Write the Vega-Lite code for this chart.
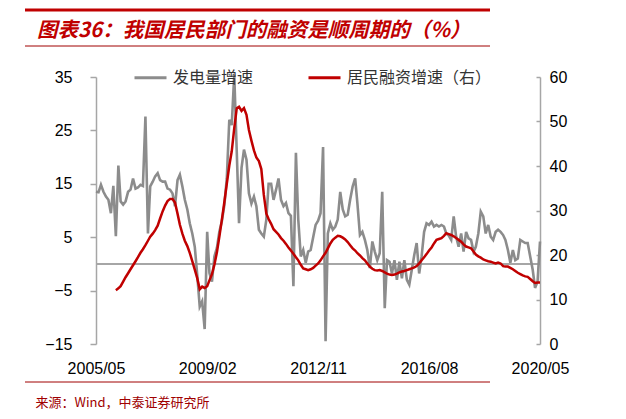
{
  "$schema": "https://vega.github.io/schema/vega-lite/v6.json",
  "width": 444,
  "height": 267,
  "autosize": {"type": "none"},
  "padding": {"left": 96, "top": 77, "right": 86, "bottom": 75},
  "background": "white",
  "title": {
    "text": "图表36：我国居民部门的融资是顺周期的（%）",
    "anchor": "start",
    "frame": "group",
    "orient": "top",
    "dx": -59,
    "offset": 0,
    "dy": 33,
    "font": "Noto Sans CJK SC",
    "fontSize": 20.5,
    "fontStyle": "italic",
    "fontWeight": "bold",
    "color": "#C00000"
  },
  "config": {
    "view": {"stroke": null},
    "font": "Liberation Sans",
    "legend": {
      "orient": "none",
      "legendX": 37,
      "legendY": -17,
      "direction": "horizontal",
      "padding": 0,
      "symbolType": "stroke",
      "symbolSize": 1024,
      "symbolStrokeWidth": 3,
      "labelFont": "Noto Sans CJK SC",
      "labelFontSize": 16,
      "labelColor": "#333333",
      "labelOffset": 5,
      "columnPadding": 48,
      "labelLimit": 300
    }
  },
  "data": {
    "values": [
      {"d": "2005-05", "g": 13.5}, {"d": "2005-06", "g": 13.4}, {"d": "2005-07", "g": 14.8}, {"d": "2005-08", "g": 13.5},
      {"d": "2005-09", "g": 12.6}, {"d": "2005-10", "g": 12.0}, {"d": "2005-11", "g": 9.5}, {"d": "2005-12", "g": 14.6},
      {"d": "2006-01", "g": 5.2, "r": 12.1}, {"d": "2006-02", "g": 18.4, "r": 12.5}, {"d": "2006-03", "g": 11.7, "r": 13.0},
      {"d": "2006-04", "g": 11.1, "r": 14.0}, {"d": "2006-05", "g": 11.7, "r": 15.0}, {"d": "2006-06", "g": 13.5, "r": 15.9},
      {"d": "2006-07", "g": 13.9, "r": 16.8}, {"d": "2006-08", "g": 16.0, "r": 17.7}, {"d": "2006-09", "g": 14.1, "r": 18.6},
      {"d": "2006-10", "g": 14.3, "r": 19.5}, {"d": "2006-11", "g": 14.8, "r": 20.5}, {"d": "2006-12", "g": 14.6, "r": 21.3},
      {"d": "2007-01", "g": 27.6, "r": 22.2}, {"d": "2007-02", "g": 5.7, "r": 23.2}, {"d": "2007-03", "g": 14.5, "r": 24.1},
      {"d": "2007-04", "g": 15.4, "r": 24.8}, {"d": "2007-05", "g": 16.4, "r": 25.6}, {"d": "2007-06", "g": 17.0, "r": 26.6},
      {"d": "2007-07", "g": 15.7, "r": 28.2}, {"d": "2007-08", "g": 15.4, "r": 29.8}, {"d": "2007-09", "g": 15.4, "r": 31.1},
      {"d": "2007-10", "g": 14.1, "r": 32.1}, {"d": "2007-11", "g": 13.9, "r": 32.6}, {"d": "2007-12", "g": 13.2, "r": 32.6},
      {"d": "2008-01", "g": 10.8, "r": 31.8}, {"d": "2008-02", "g": 15.7, "r": 29.3}, {"d": "2008-03", "g": 16.7, "r": 26.8},
      {"d": "2008-04", "g": 14.5, "r": 24.8}, {"d": "2008-05", "g": 12.0, "r": 23.2}, {"d": "2008-06", "g": 10.2, "r": 22.0},
      {"d": "2008-07", "g": 7.6, "r": 20.5}, {"d": "2008-08", "g": 5.7, "r": 18.6}, {"d": "2008-09", "g": 3.2, "r": 16.7},
      {"d": "2008-10", "g": -2.0, "r": 14.8}, {"d": "2008-11", "g": -8.0, "r": 12.3}, {"d": "2008-12", "g": -7.0, "r": 12.9},
      {"d": "2009-01", "g": -12.2, "r": 12.6}, {"d": "2009-02", "g": 6.0, "r": 13.0}, {"d": "2009-03", "g": -1.7, "r": 14.3},
      {"d": "2009-04", "g": -3.3, "r": 15.7}, {"d": "2009-05", "g": 1.4, "r": 17.8}, {"d": "2009-06", "g": 3.0, "r": 20.6},
      {"d": "2009-07", "g": 6.0, "r": 24.1}, {"d": "2009-08", "g": 8.0, "r": 27.9}, {"d": "2009-09", "g": 11.0, "r": 31.9},
      {"d": "2009-10", "g": 16.0, "r": 36.0}, {"d": "2009-11", "g": 27.0, "r": 40.1}, {"d": "2009-12", "g": 26.0, "r": 43.3},
      {"d": "2010-01", "g": 35.4, "r": 48.5}, {"d": "2010-02", "g": 21.0, "r": 53.0}, {"d": "2010-03", "g": 7.6, "r": 53.3},
      {"d": "2010-04", "g": 18.0, "r": 52.4}, {"d": "2010-05", "g": 21.4, "r": 53.0}, {"d": "2010-06", "g": 19.5, "r": 51.5},
      {"d": "2010-07", "g": 13.2, "r": 48.1}, {"d": "2010-08", "g": 11.3, "r": 45.7}, {"d": "2010-09", "g": 12.6, "r": 43.5},
      {"d": "2010-10", "g": 10.8, "r": 41.9}, {"d": "2010-11", "g": 6.4, "r": 41.1}, {"d": "2010-12", "g": 5.7, "r": 39.3},
      {"d": "2011-01", "g": 5.1, "r": 33.5}, {"d": "2011-02", "g": 8.3, "r": 29.3}, {"d": "2011-03", "g": 15.0, "r": 28.1},
      {"d": "2011-04", "g": 15.0, "r": 27.0}, {"d": "2011-05", "g": 12.0, "r": 25.8}, {"d": "2011-06", "g": 13.9, "r": 25.2},
      {"d": "2011-07", "g": 16.0, "r": 24.6}, {"d": "2011-08", "g": 12.0, "r": 23.8}, {"d": "2011-09", "g": 10.8, "r": 23.2},
      {"d": "2011-10", "g": 11.4, "r": 22.5}, {"d": "2011-11", "g": 9.5, "r": 21.7}, {"d": "2011-12", "g": 9.0, "r": 21.0},
      {"d": "2012-01", "g": -4.2, "r": 20.3}, {"d": "2012-02", "g": 20.8, "r": 19.5}, {"d": "2012-03", "g": 8.3, "r": 18.8},
      {"d": "2012-04", "g": 1.4, "r": 17.8}, {"d": "2012-05", "g": 2.6, "r": 17.0}, {"d": "2012-06", "g": 0.2, "r": 16.8},
      {"d": "2012-07", "g": 2.3, "r": 16.6}, {"d": "2012-08", "g": 2.6, "r": 16.8}, {"d": "2012-09", "g": 5.0, "r": 17.1},
      {"d": "2012-10", "g": 7.3, "r": 17.6}, {"d": "2012-11", "g": 8.1, "r": 18.1}, {"d": "2012-12", "g": 9.5, "r": 18.8},
      {"d": "2013-01", "g": 21.9, "r": 19.7}, {"d": "2013-02", "g": -14.5, "r": 20.5}, {"d": "2013-03", "g": 5.7, "r": 21.5},
      {"d": "2013-04", "g": 7.6, "r": 22.6}, {"d": "2013-05", "g": 6.4, "r": 23.4}, {"d": "2013-06", "g": 7.0, "r": 23.9},
      {"d": "2013-07", "g": 8.3, "r": 24.3}, {"d": "2013-08", "g": 13.5, "r": 24.2}, {"d": "2013-09", "g": 10.2, "r": 23.9},
      {"d": "2013-10", "g": 8.9, "r": 23.5}, {"d": "2013-11", "g": 9.2, "r": 22.9}, {"d": "2013-12", "g": 12.0, "r": 22.2},
      {"d": "2014-01", "g": 14.5, "r": 21.5}, {"d": "2014-02", "g": 16.0, "r": 21.0}, {"d": "2014-03", "g": 11.3, "r": 20.4},
      {"d": "2014-04", "g": 5.4, "r": 19.9}, {"d": "2014-05", "g": 6.0, "r": 19.3}, {"d": "2014-06", "g": 4.5, "r": 18.8},
      {"d": "2014-07", "g": 2.6, "r": 18.1}, {"d": "2014-08", "g": -0.8, "r": 17.4}, {"d": "2014-09", "g": 4.2, "r": 16.9},
      {"d": "2014-10", "g": 2.3, "r": 16.6}, {"d": "2014-11", "g": 0.7, "r": 16.5}, {"d": "2014-12", "g": 2.0, "r": 16.6},
      {"d": "2015-01", "g": 13.5, "r": 16.4}, {"d": "2015-02", "g": -8.3, "r": 16.1}, {"d": "2015-03", "g": 0.7, "r": 15.8},
      {"d": "2015-04", "g": 0.4, "r": 15.6}, {"d": "2015-05", "g": -1.8, "r": 15.5}, {"d": "2015-06", "g": 0.7, "r": 15.6},
      {"d": "2015-07", "g": -3.0, "r": 15.8}, {"d": "2015-08", "g": 0.4, "r": 16.1}, {"d": "2015-09", "g": -2.7, "r": 16.3},
      {"d": "2015-10", "g": 0.7, "r": 16.4}, {"d": "2015-11", "g": -3.0, "r": 16.6}, {"d": "2015-12", "g": -3.9, "r": 16.8},
      {"d": "2016-01", "g": -1.1, "r": 17.0}, {"d": "2016-02", "g": 1.7, "r": 17.2}, {"d": "2016-03", "g": 3.9, "r": 17.5},
      {"d": "2016-04", "g": -1.8, "r": 18.1}, {"d": "2016-05", "g": 1.4, "r": 18.8}, {"d": "2016-06", "g": 6.0, "r": 19.5},
      {"d": "2016-07", "g": 7.6, "r": 20.2}, {"d": "2016-08", "g": 7.3, "r": 21.0}, {"d": "2016-09", "g": 7.9, "r": 21.7},
      {"d": "2016-10", "g": 7.0, "r": 22.6}, {"d": "2016-11", "g": 7.3, "r": 23.4}, {"d": "2016-12", "g": 7.0, "r": 23.6},
      {"d": "2017-01", "g": 7.3, "r": 23.8}, {"d": "2017-02", "g": 7.0, "r": 24.3}, {"d": "2017-03", "g": 5.7, "r": 24.9},
      {"d": "2017-04", "g": 5.3, "r": 24.7}, {"d": "2017-05", "g": 4.5, "r": 24.5}, {"d": "2017-06", "g": 8.9, "r": 24.2},
      {"d": "2017-07", "g": 5.1, "r": 23.8}, {"d": "2017-08", "g": 3.2, "r": 23.4}, {"d": "2017-09", "g": 5.7, "r": 23.0},
      {"d": "2017-10", "g": 2.3, "r": 22.4}, {"d": "2017-11", "g": 6.0, "r": 21.9}, {"d": "2017-12", "g": 4.8, "r": 21.7},
      {"d": "2018-01", "g": 4.5, "r": 21.5}, {"d": "2018-02", "g": 2.3, "r": 20.8}, {"d": "2018-03", "g": 3.2, "r": 20.1},
      {"d": "2018-04", "g": 5.7, "r": 19.7}, {"d": "2018-05", "g": 9.8, "r": 19.4}, {"d": "2018-06", "g": 8.9, "r": 19.0},
      {"d": "2018-07", "g": 5.7, "r": 18.8}, {"d": "2018-08", "g": 7.3, "r": 18.6}, {"d": "2018-09", "g": 5.1, "r": 18.5},
      {"d": "2018-10", "g": 4.5, "r": 18.3}, {"d": "2018-11", "g": 6.0, "r": 18.1}, {"d": "2018-12", "g": 6.4, "r": 18.3},
      {"d": "2019-01", "g": 6.0, "r": 18.1}, {"d": "2019-02", "g": 5.4, "r": 17.5}, {"d": "2019-03", "g": 4.5, "r": 17.4},
      {"d": "2019-04", "g": 2.6, "r": 17.4}, {"d": "2019-05", "g": 0.2, "r": 17.1}, {"d": "2019-06", "g": 2.6, "r": 16.8},
      {"d": "2019-07", "g": 0.7, "r": 16.4}, {"d": "2019-08", "g": 1.0, "r": 16.0}, {"d": "2019-09", "g": 4.5, "r": 15.7},
      {"d": "2019-10", "g": 4.2, "r": 15.4}, {"d": "2019-11", "g": 3.9, "r": 15.2}, {"d": "2019-12", "g": 3.9, "r": 15.1},
      {"d": "2020-01", "g": 1.4, "r": 14.6}, {"d": "2020-02", "g": -1.1, "r": 14.1}, {"d": "2020-03", "g": -4.5, "r": 13.7},
      {"d": "2020-04", "g": -3.3, "r": 13.8}, {"d": "2020-05", "g": 4.2, "r": 13.8}
    ]
  },
  "layer": [
    {
      "layer": [
        {
          "mark": {"type": "rule", "color": "#a6a6a6", "strokeWidth": 1.5},
          "encoding": {"y": {"datum": 0, "type": "quantitative"}}
        },
        {
          "mark": {"type": "line", "color": "#8c8c8c", "strokeWidth": 2.6},
          "encoding": {
            "x": {
              "field": "d",
              "type": "temporal",
              "scale": {"type": "utc", "domain": [{"year": 2005, "month": 5, "date": 1, "utc": true}, {"year": 2020, "month": 5, "date": 1, "utc": true}]},
              "axis": {
                "title": "来源：Wind，中泰证券研究所",
                "titleX": -61,
                "titleY": 58,
                "titleAlign": "left",
                "titleAnchor": null,
                "titleBaseline": "middle",
                "titleFont": "Noto Sans CJK SC",
                "titleFontSize": 13,
                "titleFontWeight": "normal",
                "titleColor": "#A00000",
                "values": [
                  {"year": 2005, "month": 5, "date": 1, "utc": true},
                  {"year": 2009, "month": 2, "date": 1, "utc": true},
                  {"year": 2012, "month": 11, "date": 1, "utc": true},
                  {"year": 2016, "month": 8, "date": 1, "utc": true},
                  {"year": 2020, "month": 5, "date": 1, "utc": true}
                ],
                "format": "%Y/%m",
                "domain": false,
                "ticks": false,
                "grid": false,
                "labelFlush": false,
                "labelOverlap": false,
                "labelBound": false,
                "labelPadding": 16,
                "labelFontSize": 16,
                "labelColor": "#000000"
              }
            },
            "y": {
              "field": "g",
              "type": "quantitative",
              "scale": {"domain": [-15, 35], "nice": false, "zero": false},
              "axis": {
                "title": null,
                "values": [-15, -5, 5, 15, 25, 35],
                "grid": false,
                "domainColor": "#a6a6a6",
                "domainWidth": 1.5,
                "tickColor": "#a6a6a6",
                "tickWidth": 1.5,
                "tickSize": 6,
                "labelPadding": 18,
                "labelFontSize": 16,
                "labelColor": "#000000"
              }
            },
            "color": {
              "datum": "发电量增速",
              "type": "nominal",
              "scale": {"domain": ["发电量增速", "居民融资增速（右）"], "range": ["#8c8c8c", "#C00000"]},
              "legend": {"title": null}
            }
          }
        }
      ]
    },
    {
      "mark": {"type": "line", "color": "#C00000", "strokeWidth": 2.5},
      "encoding": {
        "x": {"field": "d", "type": "temporal"},
        "y": {
          "field": "r",
          "type": "quantitative",
          "scale": {"domain": [0, 60], "nice": false},
          "axis": {
            "orient": "right",
            "title": null,
            "values": [0, 10, 20, 30, 40, 50, 60],
            "grid": false,
            "domainColor": "#a6a6a6",
            "domainWidth": 1.5,
            "tickColor": "#a6a6a6",
            "tickWidth": 1.5,
            "tickSize": -4,
            "labelPadding": 13,
            "labelFontSize": 16,
            "labelColor": "#000000"
          }
        },
        "color": {"datum": "居民融资增速（右）", "type": "nominal"}
      }
    },
    {
      "data": {"values": [{"k": "top"}]},
      "mark": {"type": "rule", "color": "#C00000", "strokeWidth": 3},
      "encoding": {"x": {"value": -71}, "x2": {"value": 394}, "y": {"value": -67}}
    },
    {
      "data": {"values": [{"k": "under"}]},
      "mark": {"type": "rule", "color": "#A00000", "strokeWidth": 1},
      "encoding": {"x": {"value": -71}, "x2": {"value": 394}, "y": {"value": -31}}
    },
    {
      "data": {"values": [{"k": "source"}]},
      "mark": {"type": "rule", "color": "#A00000", "strokeWidth": 1},
      "encoding": {"x": {"value": -71}, "x2": {"value": 394}, "y": {"value": 305}}
    }
  ],
  "resolve": {"scale": {"y": "independent"}, "axis": {"y": "independent"}}
}
